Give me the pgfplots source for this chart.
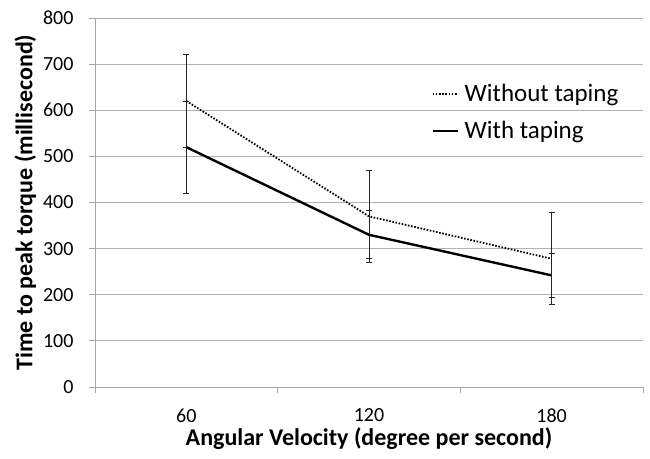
\documentclass[border=0pt]{standalone}
\usepackage{fontspec}
\setmainfont{Carlito}
\usepackage{pgfplots}
\pgfplotsset{compat=1.18}
\newcommand{\tickfont}{\fontsize{20}{24}\selectfont}
\begin{document}
\begin{tikzpicture}[font=\tickfont]
\path[use as bounding box] (-95pt,-71pt) rectangle (555pt,387pt);
\begin{axis}[
 at={(0,0)}, anchor=south west,
 scale only axis, width=548pt, height=369pt,
 xmin=-0.5, xmax=2.5, ymin=0, ymax=800,
 axis x line*=bottom, axis y line*=left,
 axis line style={gray!70, line width=0.8pt},
 xtick={0,1,2}, xticklabels={60,120,180},
 minor xtick={-0.5,0.5,1.5,2.5},
 ytick={0,100,...,800},
 ymajorgrids, major grid style={gray!60, line width=0.8pt},
 tick align=outside,
 major x tick style={draw=none},
 minor tick length=6pt, major tick length=6pt,
 tick style={gray!70, line width=0.8pt},
 /pgf/number format/assume math mode=true,
 xticklabel style={font=\tickfont, text=black, yshift=-12pt},
 yticklabel style={font=\tickfont, text=black, xshift=-12pt},
 xlabel={Angular Velocity (degree per second)},
 ylabel={Time to peak torque (millisecond)},
 label style={font=\bfseries\fontsize{24}{28}\selectfont},
 xlabel style={yshift=2pt},
 ylabel style={yshift=0pt},
 legend style={at={(axis cs:1.34,665)}, anchor=north west, draw=none, fill=none,
   font=\fontsize{25}{28}\selectfont, row sep=14pt, inner xsep=0pt},
 legend cell align=left,
 legend image code/.code={\draw[#1] (0pt,0pt) -- (25pt,0pt); \path (29pt,0pt);},
 error bars/error bar style={gray!30!black, line width=1pt, solid},
 error bars/error mark options={rotate=90, mark size=3pt, gray!30!black, line width=1pt, solid},
]
\addplot[black, line width=1.8pt, dash pattern=on 1.6pt off 1.6pt,
  error bars/.cd, y dir=both, y explicit]
  coordinates {(0,620) +- (0,100) (1,370) +- (0,100) (2,278) +- (0,100)};
\addlegendentry{Without taping}
\addplot[black, line width=2.4pt,
  error bars/.cd, y dir=both, y explicit]
  coordinates {(0,520) +- (0,100) (1,330) +- (0,52) (2,242) +- (0,48)};
\addlegendentry{With taping}
\end{axis}
\end{tikzpicture}
\end{document}
